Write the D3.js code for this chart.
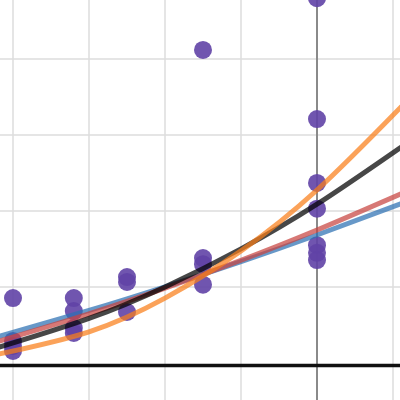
<!DOCTYPE html>
<html><head><meta charset="utf-8">
<script src="https://cdn.jsdelivr.net/npm/d3@7"></script>
<style>html,body{margin:0;padding:0;background:#fff;overflow:hidden}</style>
</head><body><svg id="c" width="400" height="400"></svg>
<script>
// Data (grid units)
const pointX = [-4,-4,-4,-4, -3.2,-3.2,-3.2,-3.2, -2.5,-2.5,-2.5, -1.5,-1.5,-1.5,-1.5, 0,0,0,0,0,0,0];
const pointY = [0.855,0.29,0.224,0.158, 0.855,0.684,0.46,0.395, 1.13,1.066,0.671, 1.38,1.30,1.03,4.12, 4.80,3.21,2.37,2.03,1.55,1.45,1.355];
const curveX = [-4.2,-3,-2,-1,0,1.1];
const blueY = [0.346,0.692,1.003,1.333,1.684,2.093];
const redY = [0.282,0.646,0.984,1.352,1.75,2.224];
const blackY = [0.202,0.586,1.001,1.502,2.09,2.836];
const orangeY = [0.115,0.411,0.854,1.475,2.276,3.363];
const xTicks = [-4,-3,-2,-1,0,1];
const yTicks = [1,2,3,4];
const baseline = -0.033;

const svg = d3.select("#c");
const x = d3.scaleLinear().domain([0,1]).range([317,393]);
const y = d3.scaleLinear().domain([0,1]).range([363,287]);

// grid
svg.append("g").selectAll("line").data(xTicks.filter(d=>d!==0)).join("line")
  .attr("x1",d=>x(d)).attr("x2",d=>x(d)).attr("y1",0).attr("y2",400)
  .attr("stroke","#dcdcdc").attr("stroke-width",1.5);
svg.append("g").selectAll("line").data(yTicks).join("line")
  .attr("y1",d=>y(d)).attr("y2",d=>y(d)).attr("x1",0).attr("x2",400)
  .attr("stroke","#dcdcdc").attr("stroke-width",1.5);
// axes
svg.append("line").attr("x1",x(0)).attr("x2",x(0)).attr("y1",0).attr("y2",400)
  .attr("stroke","#8a8a8a").attr("stroke-width",2);
svg.append("line").attr("x1",0).attr("x2",400).attr("y1",y(baseline)).attr("y2",y(baseline))
  .attr("stroke","#111").attr("stroke-width",3.5);

// points
svg.append("g").selectAll("circle").data(pointX.map((d,i)=>[d,pointY[i]])).join("circle")
  .attr("cx",d=>x(d[0])).attr("cy",d=>y(d[1])).attr("r",9)
  .attr("fill","#6042a6").attr("fill-opacity",0.9);

// curves
const line = d3.line().x(d=>x(d[0])).y(d=>y(d[1])).curve(d3.curveNatural);
const series = [[blueY,"#2d70b3"],[redY,"#c74440"],[blackY,"#000000"],[orangeY,"#fa7e19"]];
series.forEach(([ys,col])=>{
  svg.append("path").attr("d",line(curveX.map((d,i)=>[d,ys[i]])))
    .attr("fill","none").attr("stroke",col).attr("stroke-width",5)
    .attr("stroke-opacity",0.72).attr("stroke-linecap","round");
});
</script></body></html>
